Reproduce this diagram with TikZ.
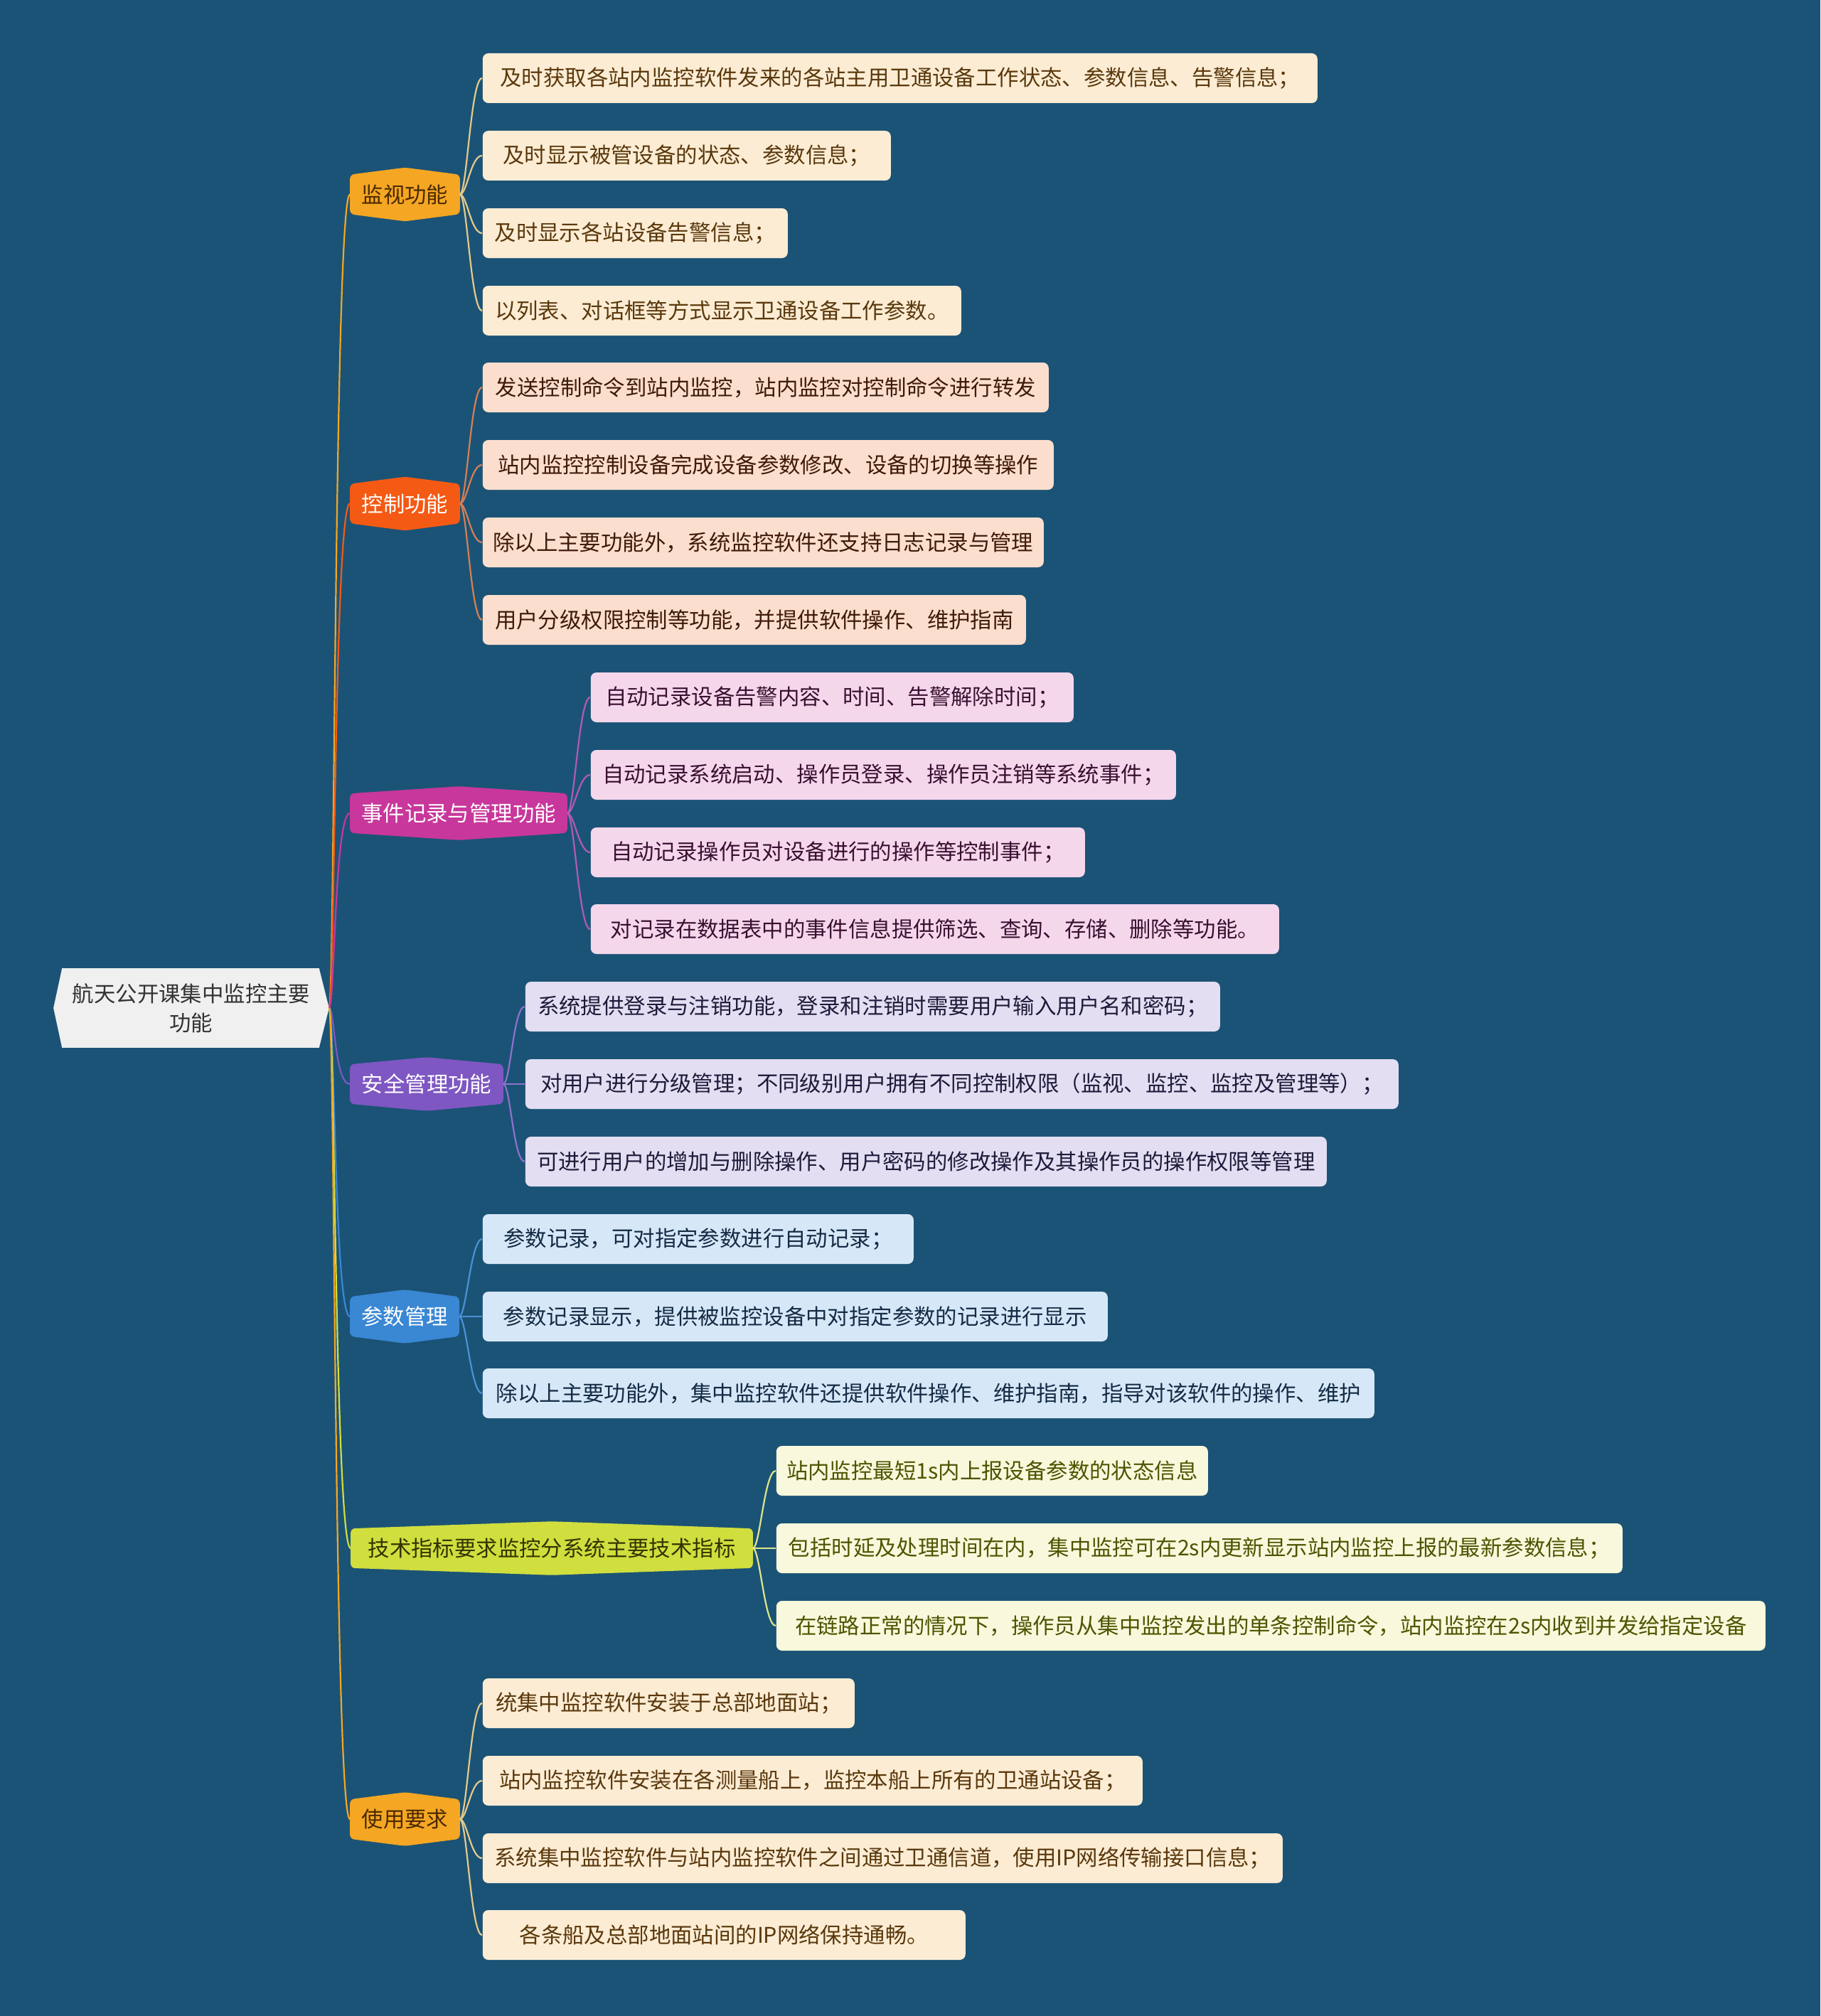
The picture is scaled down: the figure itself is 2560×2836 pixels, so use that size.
\documentclass[tikz,border=0pt]{standalone}
\usepackage{fontspec}
\newfontfamily\cjk{Noto Sans CJK SC}
\pgfdeclarelayer{back}\pgfdeclarelayer{mid}
\pgfsetlayers{back,mid,main}
\definecolor{bg}{HTML}{1B5376}
\definecolor{rootbg}{HTML}{F0F0F0}
\definecolor{rootfg}{HTML}{333333}
\definecolor{cOr}{HTML}{F5A623}
\definecolor{cOrT}{HTML}{4A2A00}
\definecolor{cOrL}{HTML}{FCECD4}
\definecolor{cOrLT}{HTML}{5A380C}
\definecolor{cOrC}{HTML}{E6C98A}
\definecolor{cRd}{HTML}{F45A14}
\definecolor{cRdL}{HTML}{FCDECE}
\definecolor{cRdLT}{HTML}{3F1A0A}
\definecolor{cRdC}{HTML}{D77F52}
\definecolor{cMg}{HTML}{C8379B}
\definecolor{cMgL}{HTML}{F5D7EC}
\definecolor{cMgLT}{HTML}{3A1030}
\definecolor{cMgC}{HTML}{B35AB3}
\definecolor{cPu}{HTML}{7E57C2}
\definecolor{cPuL}{HTML}{E4DEF2}
\definecolor{cPuLT}{HTML}{1E1A3A}
\definecolor{cPuC}{HTML}{8E72CC}
\definecolor{cBl}{HTML}{3A87D4}
\definecolor{cBlL}{HTML}{D6E8F7}
\definecolor{cBlLT}{HTML}{142B45}
\definecolor{cBlC}{HTML}{4A92D6}
\definecolor{cYg}{HTML}{D0DE3E}
\definecolor{cYgT}{HTML}{333300}
\definecolor{cYgL}{HTML}{F8F9DC}
\definecolor{cYgLT}{HTML}{4E5400}
\definecolor{cYgC}{HTML}{DDE68A}
\newcommand\br[7]{%
\node[base, minimum width={#3*0.25pt}, minimum height=13.5pt, text=#6] (#1) at (#2,#4) {#7};
\begin{pgfonlayer}{mid}
\fill[#5, rounded corners=1.5pt] (#1.west) -- (#1.north west) -- ([yshift=2.5pt]#1.north) -- (#1.north east) -- (#1.south east) -- ([yshift=-2.5pt]#1.south) -- (#1.south west) -- cycle;
\end{pgfonlayer}}
\newcommand\lf[7]{%
\node[leaf, minimum width={(#3-#2)*0.25pt}, fill=#5, text=#6] (#1) at (#2,#4) {#7};}
\newcommand\cn[5]{%
\begin{pgfonlayer}{mid}
\draw[#1, line width=0.55pt] (#2.east) .. controls +(#4,0) and +(-#5,0) .. (#3.west);
\end{pgfonlayer}}
\begin{document}
\begin{tikzpicture}[x=0.25pt,y=-0.25pt,
  base/.style={font=\cjk\fontsize{7.6pt}{10.25pt}\selectfont, inner sep=0pt},
  leaf/.style={base, anchor=west, minimum height=17.5pt, rounded corners=2pt}]
\begin{pgfonlayer}{back}
\fill[bg] (0,0) rectangle (2560,2836);
\end{pgfonlayer}
\useasboundingbox (0,0) rectangle (2560,2836);
% root
\node[base, minimum width=96.5pt, minimum height=27.5pt, text=rootfg, align=center] (root) at (269,1418) {航天公开课集中监控主要\\功能};
\begin{pgfonlayer}{mid}
\fill[rootbg] (root.west) -- ([xshift=3pt]root.north west) -- ([xshift=-3.5pt]root.north east) -- (root.east) -- ([xshift=-3.5pt]root.south east) -- ([xshift=3pt]root.south west) -- cycle;
\end{pgfonlayer}
% branches
\br{b1}{569.5}{153}{273.5}{cOr}{cOrT}{监视功能}
\br{b2}{569.5}{153}{708.5}{cRd}{white}{控制功能}
\br{b3}{645}{304}{1144}{cMg}{white}{事件记录与管理功能}
\br{b4}{600}{214}{1525}{cPu}{white}{安全管理功能}
\br{b5}{569}{152}{1852}{cBl}{white}{参数管理}
\br{b6}{776}{564}{2178}{cYg}{cYgT}{技术指标要求监控分系统主要技术指标}
\br{b7}{569.5}{153}{2559}{cOr}{cOrT}{使用要求}
% root connectors
\cn{cOr}{root}{b1}{8}{22}
\cn{cRd}{root}{b2}{8}{22}
\cn{cMg}{root}{b3}{8}{22}
\cn{cPu}{root}{b4}{8}{22}
\cn{cBl}{root}{b5}{8}{22}
\cn{cYg}{root}{b6}{8}{22}
\cn{cOr}{root}{b7}{8}{22}
% leaves: monitoring
\lf{l1}{678}{1852}{110}{cOrL}{cOrLT}{及时获取各站内监控软件发来的各站主用卫通设备工作状态、参数信息、告警信息；}
\lf{l2}{678}{1252}{219}{cOrL}{cOrLT}{及时显示被管设备的状态、参数信息；}
\lf{l3}{678}{1107}{328}{cOrL}{cOrLT}{及时显示各站设备告警信息；}
\lf{l4}{678}{1351}{437}{cOrL}{cOrLT}{以列表、对话框等方式显示卫通设备工作参数。}
% control
\lf{l5}{678}{1474}{545}{cRdL}{cRdLT}{发送控制命令到站内监控，站内监控对控制命令进行转发}
\lf{l6}{678}{1481}{654}{cRdL}{cRdLT}{站内监控控制设备完成设备参数修改、设备的切换等操作}
\lf{l7}{678}{1467}{763}{cRdL}{cRdLT}{除以上主要功能外，系统监控软件还支持日志记录与管理}
\lf{l8}{678}{1442}{872}{cRdL}{cRdLT}{用户分级权限控制等功能，并提供软件操作、维护指南}
% events
\lf{l9}{830}{1509}{981}{cMgL}{cMgLT}{自动记录设备告警内容、时间、告警解除时间；}
\lf{l10}{830}{1653}{1090}{cMgL}{cMgLT}{自动记录系统启动、操作员登录、操作员注销等系统事件；}
\lf{l11}{830}{1525}{1199}{cMgL}{cMgLT}{自动记录操作员对设备进行的操作等控制事件；}
\lf{l12}{830}{1798}{1307}{cMgL}{cMgLT}{对记录在数据表中的事件信息提供筛选、查询、存储、删除等功能。}
% security
\lf{l13}{738}{1715}{1416}{cPuL}{cPuLT}{系统提供登录与注销功能，登录和注销时需要用户输入用户名和密码；}
\lf{l14}{738}{1966}{1525}{cPuL}{cPuLT}{对用户进行分级管理；不同级别用户拥有不同控制权限（监视、监控、监控及管理等）；}
\lf{l15}{738}{1865}{1634}{cPuL}{cPuLT}{可进行用户的增加与删除操作、用户密码的修改操作及其操作员的操作权限等管理}
% parameters
\lf{l16}{678}{1284}{1743}{cBlL}{cBlLT}{参数记录，可对指定参数进行自动记录；}
\lf{l17}{678}{1557}{1852}{cBlL}{cBlLT}{参数记录显示，提供被监控设备中对指定参数的记录进行显示}
\lf{l18}{678}{1932}{1960}{cBlL}{cBlLT}{除以上主要功能外，集中监控软件还提供软件操作、维护指南，指导对该软件的操作、维护}
% technical
\lf{l19}{1091}{1698}{2069}{cYgL}{cYgLT}{站内监控最短1s内上报设备参数的状态信息}
\lf{l20}{1091}{2281}{2178}{cYgL}{cYgLT}{包括时延及处理时间在内，集中监控可在2s内更新显示站内监控上报的最新参数信息；}
\lf{l21}{1091}{2482}{2287}{cYgL}{cYgLT}{在链路正常的情况下，操作员从集中监控发出的单条控制命令，站内监控在2s内收到并发给指定设备}
% usage
\lf{l22}{678}{1201}{2396}{cOrL}{cOrLT}{统集中监控软件安装于总部地面站；}
\lf{l23}{678}{1606}{2505}{cOrL}{cOrLT}{站内监控软件安装在各测量船上，监控本船上所有的卫通站设备；}
\lf{l24}{678}{1803}{2614}{cOrL}{cOrLT}{系统集中监控软件与站内监控软件之间通过卫通信道，使用IP网络传输接口信息；}
\lf{l25}{678}{1357}{2722}{cOrL}{cOrLT}{各条船及总部地面站间的IP网络保持通畅。}
% leaf connectors
\cn{cOrC}{b1}{l1}{10}{16}\cn{cOrC}{b1}{l2}{10}{16}\cn{cOrC}{b1}{l3}{10}{16}\cn{cOrC}{b1}{l4}{10}{16}
\cn{cRdC}{b2}{l5}{10}{16}\cn{cRdC}{b2}{l6}{10}{16}\cn{cRdC}{b2}{l7}{10}{16}\cn{cRdC}{b2}{l8}{10}{16}
\cn{cMgC}{b3}{l9}{10}{16}\cn{cMgC}{b3}{l10}{10}{16}\cn{cMgC}{b3}{l11}{10}{16}\cn{cMgC}{b3}{l12}{10}{16}
\cn{cPuC}{b4}{l13}{10}{16}\cn{cPuC}{b4}{l14}{10}{16}\cn{cPuC}{b4}{l15}{10}{16}
\cn{cBlC}{b5}{l16}{10}{16}\cn{cBlC}{b5}{l17}{10}{16}\cn{cBlC}{b5}{l18}{10}{16}
\cn{cYgC}{b6}{l19}{10}{16}\cn{cYgC}{b6}{l20}{10}{16}\cn{cYgC}{b6}{l21}{10}{16}
\cn{cOrC}{b7}{l22}{10}{16}\cn{cOrC}{b7}{l23}{10}{16}\cn{cOrC}{b7}{l24}{10}{16}\cn{cOrC}{b7}{l25}{10}{16}
\end{tikzpicture}
\end{document}
